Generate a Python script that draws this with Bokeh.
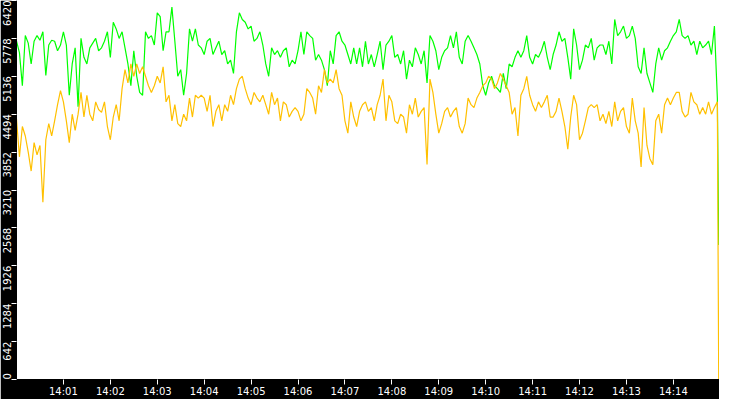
import pandas as pd
from bokeh.plotting import figure
from bokeh.models import Range1d, FixedTicker, DatetimeTickFormatter, LinearAxis
from bokeh.embed import file_html
from bokeh.resources import INLINE

green_vals = [
    5730, 5537, 4976, 5826, 5698, 5345, 5730, 5826, 5746, 5890, 5152, 5666, 5746, 5730, 5569,
    5666, 5890, 5666, 4815, 5345, 5618, 4622, 5778, 5457, 5345, 5618, 5698, 5778, 5569, 5618,
    5730, 5890, 5457, 6051, 5939, 5778, 5890, 5618, 5345, 4976, 5569, 5136, 4863, 4815, 5890,
    5778, 5826, 5666, 6211, 6147, 5569, 5890, 5890, 6308, 5730, 5136, 5248, 4815, 5184, 5939,
    5730, 5939, 5666, 5618, 5505, 5730, 5778, 5505, 5618, 5730, 5505, 5569, 5345, 5409, 5184,
    5890, 6211, 6099, 6051, 5939, 5987, 5730, 5778, 5890, 5666, 5345, 5136, 5618, 5505, 5569,
    5457, 5569, 5618, 5297, 5409, 5345, 5569, 5890, 5505, 5890, 5826, 5778, 5409, 5505, 5409,
    5248, 4976, 5569, 5345, 5826, 5890, 5730, 5666, 5505, 5345, 5618, 5345, 5618, 5297, 5730,
    5345, 5505, 5297, 5505, 5730, 5248, 5666, 5730, 5826, 5457, 5505, 5345, 5569, 5088, 5409,
    5297, 5618, 5505, 5345, 5569, 5024, 5826, 5730, 5569, 5248, 5457, 5569, 5618, 5826, 5618,
    5890, 5457, 5345, 5730, 5826, 5730, 5618, 5505, 5345, 4976, 4815, 5024, 5136, 4976, 4927,
    4863, 5184, 4927, 5345, 5297, 5457, 5569, 5457, 5569, 5826, 5457, 5345, 5505, 5457, 5569,
    5730, 5457, 5248, 5505, 5666, 5890, 5730, 5778, 5457, 5088, 5939, 5666, 5248, 5409, 5666,
    5618, 5778, 5409, 5618, 5666, 5666, 5505, 5730, 5345, 6099, 5826, 5890, 5987, 5778, 5826,
    5987, 5778, 5297, 5184, 5618, 5184, 5024, 4863, 5345, 5618, 5409, 5569, 5618, 5730, 5826,
    5890, 6099, 5826, 5778, 5826, 5666, 5730, 5505, 5730, 5618, 5666, 5730, 5505, 5987, 4767,
    2279,
]
orange_vals = [
    4414, 3772, 4285, 4125, 3852, 3531, 4013, 3804, 3964, 3001, 4061, 4334, 4125, 4382, 4655,
    4895, 4703, 4382, 4013, 4494, 4221, 4494, 4863, 4446, 4815, 4494, 4382, 4703, 4574, 4526,
    4703, 4285, 4061, 4446, 4655, 4382, 4927, 5248, 5024, 5345, 5136, 5345, 5184, 5297, 5136,
    4976, 4863, 4976, 5136, 5024, 5297, 4703, 4815, 4382, 4655, 4334, 4285, 4494, 4382, 4767,
    4446, 4815, 4767, 4815, 4767, 4542, 4815, 4285, 4542, 4655, 4382, 4655, 4542, 4815, 4655,
    4927, 5088, 5136, 4927, 4767, 4655, 4863, 4767, 4703, 4815, 4655, 4494, 4863, 4655, 4767,
    4382, 4703, 4655, 4446, 4542, 4606, 4542, 4382, 4494, 4927, 4863, 4767, 4494, 4976, 4863,
    5248, 5024, 5088, 5024, 5248, 4927, 4815, 4382, 4173, 4703, 4446, 4285, 4542, 4655, 4703,
    4542, 4606, 4382, 4655, 4815, 5088, 4382, 4815, 4703, 4382, 4334, 4494, 4446, 4173, 4655,
    4494, 4767, 4446, 4542, 4606, 3643, 5088, 4863, 4494, 4173, 4334, 4542, 4606, 4446, 4542,
    4606, 4285, 4173, 4334, 4767, 4655, 4606, 4767, 4863, 4976, 5024, 5136, 5088, 4927, 5024,
    5184, 5088, 4976, 4863, 4494, 4606, 4125, 4815, 4927, 5136, 4815, 4655, 4542, 4703, 4606,
    4703, 4815, 4446, 4446, 4542, 4767, 4542, 4285, 3900, 4446, 4815, 4655, 4061, 4173, 4382,
    4606, 4655, 4606, 4655, 4382, 4494, 4334, 4542, 4285, 4703, 4382, 4542, 4606, 4285, 4173,
    4767, 4382, 4173, 3600, 4606, 3964, 3740, 3640, 4382, 4494, 4173, 4655, 4767, 4655, 4767,
    4863, 4863, 4542, 4446, 4494, 4863, 4703, 4655, 4494, 4606, 4494, 4703, 4494, 4606, 4703,
    0,
]
y_ticks = [0, 642, 1284, 1926, 2568, 3210, 3852, 4494, 5136, 5778, 6420]
minute_labels = ["14:01", "14:02", "14:03", "14:04", "14:05", "14:06", "14:07",
                 "14:08", "14:09", "14:10", "14:11", "14:12", "14:13", "14:14"]
day = "2024-01-01"
start_time = pd.Timestamp(f"{day} 14:00:00")
last_time = pd.Timestamp(f"{day} 14:14:58")
end_time = pd.Timestamp(f"{day} 14:14:59")

times = list(pd.date_range(start_time, periods=len(green_vals) - 1, freq="3750ms")) + [last_time]


def ms(ts):
    return ts.value / 1e6


x_ticks = [ms(pd.Timestamp(f"{day} {m}:00")) for m in minute_labels]

p = figure(width=719, height=399, x_axis_type="datetime",
           x_range=Range1d(ms(start_time), ms(end_time)),
           y_range=Range1d(0, 6420),
           output_backend="svg", toolbar_location=None)
p.background_fill_color = "white"
p.border_fill_color = "black"
p.outline_line_color = None
p.grid.visible = False
p.min_border_left = 16
p.min_border_bottom = 17
p.min_border_top = 0
p.min_border_right = 0

p.xaxis.ticker = FixedTicker(ticks=x_ticks)
p.xaxis.formatter = DatetimeTickFormatter(seconds="%H:%M", minsec="%H:%M", minutes="%H:%M",
                                          hourmin="%H:%M", hours="%H:%M")
p.yaxis.ticker = FixedTicker(ticks=y_ticks)
p.yaxis.major_label_overrides = {t: "" for t in y_ticks}

for ax in (p.xaxis, p.yaxis):
    ax.axis_line_color = "black"
    ax.axis_line_width = 1
    ax.major_tick_line_color = "#ffffff"
    ax.major_tick_line_width = 1
    ax.minor_tick_line_color = None
    ax.major_tick_in = 0
    ax.major_tick_out = 5
    ax.major_label_standoff = 1
    ax.major_label_text_color = "white"
    ax.major_label_text_font = "DejaVu Sans"
    ax.major_label_text_font_size = "10px"
p.yaxis.major_label_standoff = 0
p.yaxis.major_label_text_font_size = "1px"

# Second left axis carrying only the rotated labels, each set just below its tick
# (the "0" label sits just above), as in the reference.
px_per_unit = (399 - 17) / 6420.0
char_px = 6.4


def label_anchor(t):
    half = len(str(t)) * char_px / 2.0
    if t == 0:
        return int(round(half / px_per_unit))
    return int(round(t - half / px_per_unit))


label_pos = [label_anchor(t) for t in y_ticks]
label_axis = LinearAxis(ticker=FixedTicker(ticks=label_pos),
                        major_label_overrides={a: str(t) for a, t in zip(label_pos, y_ticks)},
                        major_label_orientation="vertical",
                        axis_line_color=None, major_tick_line_color=None,
                        minor_tick_line_color=None, major_tick_in=0, major_tick_out=0,
                        major_label_standoff=0, major_label_text_color="white",
                        major_label_text_font="DejaVu Sans", major_label_text_font_size="10px")
p.add_layout(label_axis, "left")

p.line(times, green_vals, line_color="#00ff00", line_width=1.2)
p.line(times, orange_vals, line_color="#ffc000", line_width=1.2)

open("out.html", "w").write(file_html(p, INLINE))
